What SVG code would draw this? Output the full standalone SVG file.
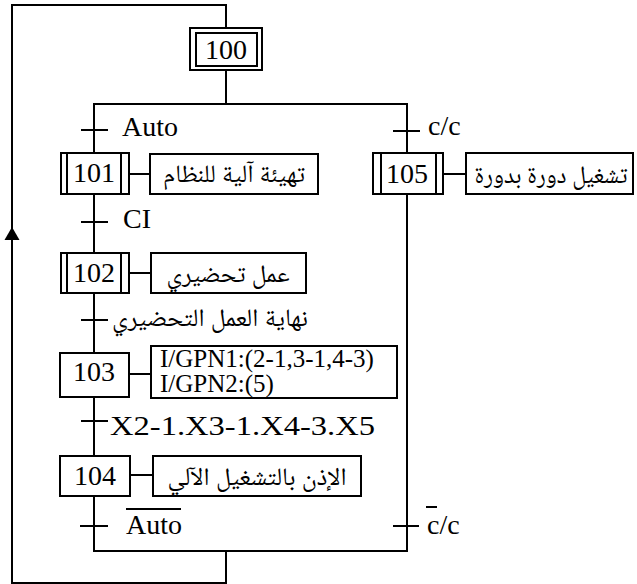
<svg xmlns="http://www.w3.org/2000/svg" width="637" height="584" viewBox="0 0 637 584">
<style>
.ln{fill:none;stroke:#000;stroke-width:2}
.bx{fill:#fff;stroke:#000;stroke-width:2}
.t{font-family:"Liberation Serif","Times New Roman",serif;font-size:28px;fill:#000}
.num{text-anchor:middle}
.ar{font-family:"Liberation Serif","Noto Naskh Arabic","DejaVu Sans",serif;font-size:25px;fill:#000;text-anchor:middle}
.sm{font-size:25px}
</style>
<rect width="637" height="584" fill="#fff"/>
<g id="connectors">
<polyline class="ln" points="226,28 226,5 12,5 12,583 226,583 226,551"/>
<polygon points="12,227 4.5,240 19.5,240" fill="#000"/>
<line class="ln" x1="226" y1="70" x2="226" y2="104"/>
<line class="ln" x1="93" y1="104" x2="408" y2="104"/>
<line class="ln" x1="93" y1="551" x2="408" y2="551"/>
<line class="ln" x1="94" y1="104" x2="94" y2="153"/>
<line class="ln" x1="94" y1="194" x2="94" y2="253"/>
<line class="ln" x1="94" y1="293" x2="94" y2="353"/>
<line class="ln" x1="94" y1="397" x2="94" y2="456"/>
<line class="ln" x1="94" y1="496" x2="94" y2="551"/>
<line class="ln" x1="407" y1="104" x2="407" y2="153"/>
<line class="ln" x1="407" y1="194" x2="407" y2="551"/>
<line class="ln" x1="81" y1="130" x2="108" y2="130"/>
<line class="ln" x1="81" y1="222" x2="108" y2="222"/>
<line class="ln" x1="81" y1="320" x2="108" y2="320"/>
<line class="ln" x1="81" y1="421" x2="108" y2="421"/>
<line class="ln" x1="80" y1="526" x2="108" y2="526"/>
<line class="ln" x1="393" y1="131" x2="420" y2="131"/>
<line class="ln" x1="393" y1="526" x2="419" y2="526"/>
<line class="ln" x1="129" y1="174" x2="150" y2="174"/>
<line class="ln" x1="443" y1="174" x2="466" y2="174"/>
<line class="ln" x1="129" y1="273" x2="151" y2="273"/>
<line class="ln" x1="129" y1="374" x2="151" y2="374"/>
<line class="ln" x1="130" y1="475" x2="153" y2="475"/>
<text class="t" x="122" y="136">Auto</text>
<text class="t" x="123" y="228">CI</text>
<text class="t" x="428" y="135">c/c</text>
<text class="ar" x="210" y="326" textLength="196" lengthAdjust="spacingAndGlyphs">نهاية العمل التحضيري</text>
<text class="t" x="110" y="435" font-size="30" textLength="265" lengthAdjust="spacingAndGlyphs">X2-1.X3-1.X4-3.X5</text>
<text class="t" x="126" y="534">Auto</text>
<line class="ln" x1="126" y1="509" x2="181" y2="509"/>
<text class="t" x="427" y="534">c/c</text>
<line class="ln" x1="426" y1="507" x2="437" y2="507"/>
</g>
<g id="step100">
<rect class="bx" x="190" y="28" width="72" height="42"/>
<rect class="bx" x="196" y="33" width="61" height="33"/>
<text class="t num" x="226" y="59">100</text>
</g>
<g id="step101">
<rect class="bx" x="61" y="153" width="68" height="41"/>
<line class="ln" x1="67" y1="153" x2="67" y2="194"/>
<line class="ln" x1="121" y1="153" x2="121" y2="194"/>
<text class="t num" x="94" y="182">101</text>
</g>
<g id="action101">
<rect class="bx" x="150" y="154" width="168" height="40"/>
<text class="ar" x="234" y="182" textLength="142" lengthAdjust="spacingAndGlyphs">تهيئة آلية للنظام</text>
</g>
<g id="step105">
<rect class="bx" x="373" y="153" width="70" height="41"/>
<line class="ln" x1="381" y1="153" x2="381" y2="194"/>
<line class="ln" x1="436" y1="153" x2="436" y2="194"/>
<text class="t num" x="407" y="183">105</text>
</g>
<g id="action105">
<rect class="bx" x="466" y="153" width="167" height="41"/>
<text class="ar" x="551" y="183" textLength="153" lengthAdjust="spacingAndGlyphs">تشغيل دورة بدورة</text>
</g>
<g id="step102">
<rect class="bx" x="61" y="253" width="68" height="40"/>
<line class="ln" x1="67" y1="253" x2="67" y2="293"/>
<line class="ln" x1="121" y1="253" x2="121" y2="293"/>
<text class="t num" x="94" y="282">102</text>
</g>
<g id="action102">
<rect class="bx" x="151" y="253" width="155" height="40"/>
<text class="ar" x="228" y="282" textLength="123" lengthAdjust="spacingAndGlyphs">عمل تحضيري</text>
</g>
<g id="step103">
<rect class="bx" x="60" y="353" width="69" height="44"/>
<text class="t num" x="94" y="381">103</text>
</g>
<g id="action103">
<rect class="bx" x="151" y="346" width="246" height="52"/>
<text class="t sm" x="160" y="367">I/GPN1:(2-1,3-1,4-3)</text>
<text class="t sm" x="160" y="392">I/GPN2:(5)</text>
</g>
<g id="step104">
<rect class="bx" x="60" y="456" width="70" height="40"/>
<text class="t num" x="95" y="485">104</text>
</g>
<g id="action104">
<rect class="bx" x="153" y="456" width="208" height="40"/>
<text class="ar" x="257" y="485" textLength="179" lengthAdjust="spacingAndGlyphs">الإذن بالتشغيل الآلي</text>
</g>
</svg>
